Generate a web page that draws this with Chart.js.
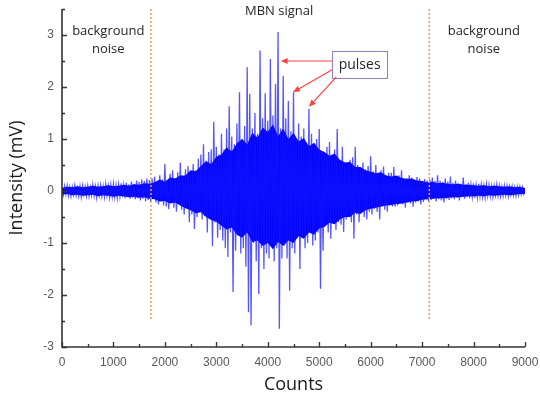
<!DOCTYPE html>
<html>
<head>
<meta charset="utf-8">
<script src="https://cdn.jsdelivr.net/npm/chart.js@4.4.1/dist/chart.umd.min.js"></script>
<style>
  html, body { margin: 0; padding: 0; background: #fff; }
  #wrap { width: 540px; height: 398px; }
</style>
</head>
<body>
<div id="wrap"><canvas id="chart" width="540" height="398"></canvas></div>
<script>
// counts between two samples of the trace
const sampleStep = 25;

// 0 .. 1700 counts, quiet background before the burst
const noiseLeft = [
  0.02,-0.08,0.09,-0.06,0.1,-0.09,0.07,-0.1,0.08,-0.07,
  0.11,-0.08,0.06,-0.1,0.09,-0.11,0.1,-0.07,0.08,-0.09,
  0.1,-0.1,0.07,-0.08,0.12,-0.09,0.09,-0.12,0.1,-0.08,
  0.11,-0.1,0.09,-0.11,0.13,-0.09,0.1,-0.12,0.12,-0.1,
  0.14,-0.11,0.11,-0.13,0.12,-0.1,0.15,-0.12,0.11,-0.14,
  0.16,-0.12,0.13,-0.15,0.18,-0.13,0.14,-0.16,0.2,-0.14,
  0.17,-0.18,0.22,-0.15,0.19,-0.2,0.24,-0.17,0.21
];

// 1725 .. 7100 counts, the MBN burst
const mbnSignal = [
  -0.2,0.24,-0.12,0.28,-0.22,0.15,-0.26,0.3,-0.18,0.22,-0.28,0.52,
  -0.3,0.2,-0.35,0.33,-0.18,0.4,-0.32,0.25,-0.4,0.36,-0.22,0.55,-0.36,0.28,-0.45,0.42,-0.3,0.48,-0.6,0.35,
  -0.45,0.52,-0.73,0.4,-0.5,0.62,-0.4,0.7,-0.55,0.9,-0.48,0.58,-0.8,0.75,-0.5,0.8,-1.06,1.33,-0.6,0.85,
  -0.9,0.7,-0.75,1.1,-0.95,0.8,-1.1,1.2,-1.27,1.63,-0.8,1.05,-1.94,0.9,-1.15,1.3,-0.85,1.9,-1.2,1.0,
  -1.1,1.25,-1.45,2.38,-2.33,1.87,-2.58,1.2,-1.0,1.5,-1.35,1.1,-1.98,2.7,-1.1,1.4,-1.5,1.88,-1.2,1.35,
  -1.3,2.54,-1.0,1.45,-1.35,2.06,-1.1,3.06,-2.65,1.2,-1.3,2.21,-1.05,1.4,-1.3,1.73,-1.92,1.15,-1.1,1.9,
  -1.2,1.0,-0.9,1.3,-1.5,1.05,-0.85,1.2,-1.1,0.9,-1.0,1.58,-0.8,1.1,-1.05,0.85,-0.95,1.0,-0.8,1.19,
  -1.88,0.75,-1.15,0.7,-0.65,0.85,-0.8,0.94,-0.92,0.6,-0.6,0.8,-0.75,1.19,-0.6,0.55,-0.65,0.85,-0.79,0.55,
  -0.55,0.5,-0.45,0.6,-0.6,0.65,-0.92,0.85,-0.45,0.5,-0.6,0.45,-0.4,0.55,-0.5,0.42,-0.55,0.48,-0.4,0.67,
  -0.45,0.38,-0.34,0.5,-0.4,0.32,-0.55,0.4,-0.3,0.47,-0.36,0.3,-0.4,0.35,-0.28,0.35,-0.3,0.46,-0.3,0.28,
  -0.28,0.3,-0.25,0.4,-0.26,0.24,-0.32,0.25,-0.22,0.3,-0.24,0.26,-0.3,0.2,-0.22,0.27,-0.2,0.24,-0.26,0.18,-0.21,0.23,-0.16,0.2
];

// 7125 .. 9000 counts, background after the burst
const noiseRight = [
  -0.2,0.22,-0.17,0.26,-0.15,0.19,-0.2,0.3,-0.16,0.2,
  -0.18,0.17,-0.22,0.24,-0.15,0.18,-0.17,0.28,-0.14,0.16,
  -0.16,0.2,-0.13,0.15,-0.18,0.14,-0.12,0.26,-0.15,0.13,
  -0.12,0.16,-0.14,0.12,-0.11,0.15,-0.13,0.11,-0.12,0.14,
  -0.1,0.12,-0.11,0.1,-0.12,0.13,-0.09,0.11,-0.1,0.09,
  -0.11,0.1,-0.08,0.12,-0.09,0.1,-0.1,0.08,-0.09,0.1,
  -0.08,0.09,-0.1,0.08,-0.07,0.09,-0.08,0.07,-0.09,0.08,
  -0.07,0.08,-0.06,0.07,-0.06,0.02
];

// solid core of the trace (samples too dense to separate), every 100 counts
const coreStep = 100;
const coreUpper = [
  0.06,0.08,0.07,0.09,0.07,0.08,0.1,0.08,0.09,0.11,0.09,0.1,0.12,0.1,0.13,0.12,0.15,0.14,
  0.17,0.22,0.18,0.26,0.24,0.3,0.3,0.4,0.38,0.48,0.57,0.52,0.66,
  0.7,0.84,0.76,0.92,1.0,0.9,1.12,1.03,1.22,1.14,
  1.28,1.06,1.2,1.0,1.12,0.95,1.02,0.86,0.93,0.8,
  0.75,0.68,0.72,0.6,0.55,0.56,0.46,0.46,0.4,0.37,
  0.34,0.36,0.3,0.28,0.3,0.25,0.23,0.24,0.2,0.19,
  0.17,0.18,0.15,0.16,0.14,0.13,0.14,0.12,0.12,0.11,
  0.1,0.11,0.09,0.1,0.09,0.08,0.09,0.07,0.08,0.06
];
const coreLower = [
  -0.07,-0.06,-0.08,-0.07,-0.09,-0.08,-0.07,-0.1,-0.08,-0.09,-0.11,-0.09,-0.1,-0.12,-0.11,-0.13,-0.12,-0.15,
  -0.16,-0.2,-0.19,-0.24,-0.22,-0.28,-0.33,-0.37,-0.43,-0.41,-0.5,-0.56,-0.59,
  -0.67,-0.74,-0.7,-0.84,-0.9,-0.8,-0.98,-0.95,-1.06,-1.0,
  -1.12,-0.98,-1.06,-0.95,-1.0,-0.87,-0.92,-0.8,-0.84,-0.72,
  -0.69,-0.61,-0.64,-0.55,-0.5,-0.5,-0.42,-0.44,-0.37,-0.34,
  -0.32,-0.3,-0.28,-0.27,-0.25,-0.24,-0.22,-0.2,-0.19,-0.17,
  -0.16,-0.15,-0.14,-0.14,-0.13,-0.12,-0.12,-0.11,-0.1,-0.1,
  -0.09,-0.1,-0.08,-0.09,-0.08,-0.07,-0.08,-0.07,-0.06,-0.06
];

const xTicks = [0, 1000, 2000, 3000, 4000, 5000, 6000, 7000, 8000, 9000];
const yTicks = [-3, -2, -1, 0, 1, 2, 3];
const xMinorStep = 500;
const yMinorStep = 0.5;

// where the burst starts / ends (counts) and the span of the marker lines
const boundaries = [1730, 7140];
const boundarySpan = [3.5, -2.5];

const signal = noiseLeft.concat(mbnSignal, noiseRight);
const tracePoints = signal.map((v, i) => ({ x: i * sampleStep, y: v }));
const upperPoints = coreUpper.map((v, i) => ({ x: i * coreStep, y: v }));
const lowerPoints = coreLower.map((v, i) => ({ x: i * coreStep, y: v }));

// text notes in data units
const notes = [
  { text: 'background', x: 900, y: 3.08 },
  { text: 'noise', x: 900, y: 2.73 },
  { text: 'MBN signal', x: 4220, y: 3.46 },
  { text: 'background', x: 8200, y: 3.08 },
  { text: 'noise', x: 8200, y: 2.73 }
];
const pulseBox = { text: 'pulses', x0: 5250, x1: 6320, y0: 2.69, y1: 2.17 };
const pulseArrows = [
  { from: [5250, 2.5], to: [4250, 2.5] },
  { from: [5250, 2.33], to: [4490, 1.9] },
  { from: [5330, 2.19], to: [4800, 1.62] }
];

const axisFrame = {
  id: 'axisFrame',
  afterDatasetsDraw(chart) {
    const { ctx, chartArea: a, scales: { x, y } } = chart;
    ctx.save();
    ctx.strokeStyle = '#333';
    ctx.lineWidth = 1.6;
    ctx.beginPath();
    ctx.moveTo(a.left, a.top);
    ctx.lineTo(a.left, a.bottom);
    ctx.lineTo(a.right, a.bottom);
    ctx.stroke();

    ctx.lineWidth = 1.3;
    ctx.beginPath();
    for (let v = x.min; v <= x.max + 1e-6; v += xMinorStep) {
      const px = Math.round(x.getPixelForValue(v)) + 0.5;
      const len = v % 1000 === 0 ? 5 : 3;
      ctx.moveTo(px, a.bottom);
      ctx.lineTo(px, a.bottom - len);
    }
    for (let v = y.min; v <= y.max + 1e-6; v += yMinorStep) {
      const py = Math.round(y.getPixelForValue(v)) + 0.5;
      const len = Number.isInteger(v) ? 5 : 3;
      ctx.moveTo(a.left, py);
      ctx.lineTo(a.left + len, py);
    }
    ctx.stroke();
    ctx.restore();
  }
};

function arrow(ctx, x0, y0, x1, y1) {
  const ang = Math.atan2(y1 - y0, x1 - x0);
  const head = 7, half = 3;
  const bx = x1 - head * Math.cos(ang), by = y1 - head * Math.sin(ang);
  ctx.beginPath();
  ctx.moveTo(x0, y0);
  ctx.lineTo(bx, by);
  ctx.stroke();
  ctx.beginPath();
  ctx.moveTo(x1, y1);
  ctx.lineTo(bx + half * Math.sin(ang), by - half * Math.cos(ang));
  ctx.lineTo(bx - half * Math.sin(ang), by + half * Math.cos(ang));
  ctx.closePath();
  ctx.fill();
}

const notesPlugin = {
  id: 'notes',
  afterDraw(chart) {
    const { ctx, scales: { x, y } } = chart;
    ctx.save();
    ctx.font = '13px "Open Sans"';
    ctx.fillStyle = '#262626';
    ctx.textAlign = 'center';
    ctx.textBaseline = 'middle';
    notes.forEach(n => ctx.fillText(n.text, x.getPixelForValue(n.x), y.getPixelForValue(n.y)));

    const bx0 = x.getPixelForValue(pulseBox.x0), bx1 = x.getPixelForValue(pulseBox.x1);
    const by0 = y.getPixelForValue(pulseBox.y0), by1 = y.getPixelForValue(pulseBox.y1);
    ctx.fillStyle = '#fff';
    ctx.fillRect(bx0, by0, bx1 - bx0, by1 - by0);
    ctx.strokeStyle = '#8f7fc0';
    ctx.lineWidth = 1;
    ctx.strokeRect(Math.round(bx0) + 0.5, Math.round(by0) + 0.5, Math.round(bx1 - bx0), Math.round(by1 - by0));
    ctx.fillStyle = '#262626';
    ctx.font = '14px "Open Sans"';
    ctx.fillText(pulseBox.text, (bx0 + bx1) / 2, (by0 + by1) / 2);

    ctx.strokeStyle = '#ff4040';
    ctx.fillStyle = '#ff4040';
    ctx.lineWidth = 1.2;
    pulseArrows.forEach(p => arrow(ctx,
      x.getPixelForValue(p.from[0]), y.getPixelForValue(p.from[1]),
      x.getPixelForValue(p.to[0]), y.getPixelForValue(p.to[1])));
    ctx.restore();
  }
};

const boundarySets = boundaries.map(b => ({
  data: [{ x: b, y: boundarySpan[0] }, { x: b, y: boundarySpan[1] }],
  borderColor: '#f39a5c',
  borderWidth: 1.5,
  borderDash: [2, 2],
  pointRadius: 0,
  order: 1
}));

new Chart(document.getElementById('chart'), {
  type: 'line',
  data: {
    datasets: [
      {
        data: tracePoints,
        borderColor: 'rgba(20,20,255,0.72)',
        borderWidth: 1.3,
        pointRadius: 0,
        tension: 0,
        order: 2
      },
      {
        data: upperPoints,
        borderWidth: 0,
        pointRadius: 0,
        fill: false,
        order: 3
      },
      {
        data: lowerPoints,
        borderColor: '#0000ff',
        borderWidth: 0,
        backgroundColor: '#0000ff',
        pointRadius: 0,
        fill: '-1',
        order: 3
      },
      ...boundarySets
    ]
  },
  options: {
    responsive: false,
    animation: false,
    events: [],
    layout: { padding: { top: 9, right: 15, left: 0, bottom: 0 } },
    plugins: { legend: { display: false }, tooltip: { enabled: false } },
    scales: {
      x: {
        type: 'linear',
        min: 0,
        max: 9000,
        afterBuildTicks: s => { s.ticks = xTicks.map(v => ({ value: v })); },
        afterFit: s => { s.height = 51; s.paddingLeft = 0; s.paddingRight = 0; },
        grid: { display: false, drawTicks: false },
        border: { display: false },
        ticks: {
          autoSkip: false,
          maxRotation: 0,
          padding: 8,
          color: '#595959',
          font: { family: '"Liberation Sans", Arial, sans-serif', size: 12 },
          callback: v => String(v)
        },
        title: {
          display: true,
          text: 'Counts',
          color: '#1a1a1a',
          font: { family: '"Open Sans"', size: 18 },
          padding: { top: 0, bottom: 2 }
        }
      },
      y: {
        type: 'linear',
        min: -3,
        max: 3.5,
        afterBuildTicks: s => { s.ticks = yTicks.map(v => ({ value: v })); },
        afterFit: s => { s.width = 62; s.paddingTop = 0; s.paddingBottom = 0; },
        grid: { display: false, drawTicks: false },
        border: { display: false },
        ticks: {
          padding: 8,
          color: '#595959',
          font: { family: '"Liberation Sans", Arial, sans-serif', size: 12 }
        },
        title: {
          display: true,
          text: 'Intensity (mV)',
          color: '#1a1a1a',
          font: { family: '"Open Sans"', size: 18 },
          padding: { top: 6, bottom: 0 }
        }
      }
    }
  },
  plugins: [axisFrame, notesPlugin]
});
</script>
</body>
</html>
